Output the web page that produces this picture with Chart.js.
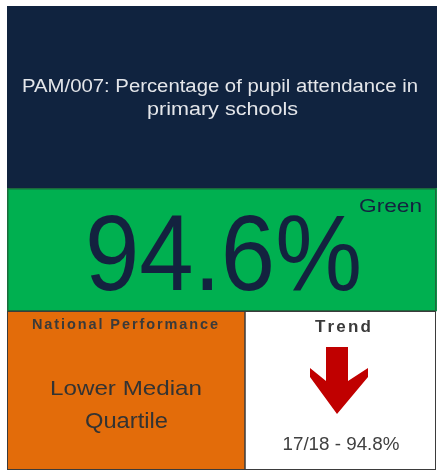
<!DOCTYPE html>
<html>
<head>
<meta charset="utf-8">
<script src="https://cdn.jsdelivr.net/npm/chart.js@4.4.0/dist/chart.umd.min.js"></script>
<style>
  html, body { margin: 0; padding: 0; background: #fff; }
  #wrap { width: 437px; height: 472px; }
</style>
</head>
<body>
<div id="wrap"><canvas id="kpiTile"></canvas></div>
<script>
// indicator data
const titleLines = ['PAM/007: Percentage of pupil attendance in', 'primary schools'];
const years = ['17/18', '18/19'];
const attendance = [94.8, 94.6];
const ragStatus = ['Green'];
const nationalLabel = ['National Performance'];
const nationalQuartile = ['Lower Median', 'Quartile'];
const trendLabel = ['Trend'];

const FONT = '"Liberation Sans", Arial, Helvetica, sans-serif';

// draw text centred on cx and stretched/squeezed to the width seen in the tile
function fitText(ctx, text, cx, baseline, width, font, color) {
    ctx.font = font;
    let w = ctx.measureText(text).width;
    ctx.save();
    ctx.translate(cx, baseline);
    ctx.scale(width / w, 1);
    ctx.textAlign = 'center';
    ctx.textBaseline = 'alphabetic';
    ctx.fillStyle = color;
    ctx.fillText(text, 0, 0);
    ctx.restore();
}

// same idea but widened with letter spacing instead of stretching glyphs
function spacedText(ctx, text, cx, baseline, width, font, color) {
    ctx.save();
    ctx.font = font;
    let w = ctx.measureText(text).width;
    let gap = (width - w) / (text.length - 1);
    ctx.fillStyle = color;
    ctx.textAlign = 'left';
    ctx.textBaseline = 'alphabetic';
    let x = cx - width / 2;
    for (let ch of text) {
        ctx.fillText(ch, x, baseline);
        x += ctx.measureText(ch).width + gap;
    }
    ctx.restore();
}

// chevron style arrow, pointing down when the value fell
function drawArrow(ctx, cx, top, down) {
    let pts = [[-11, 0], [11, 0], [11, 34], [31, 21], [31, 30], [0, 67], [-27, 30], [-27, 21], [-11, 34]];
    ctx.save();
    ctx.translate(cx, down ? top : top + 67);
    if (!down) ctx.scale(1, -1);
    ctx.beginPath();
    pts.forEach((p, i) => i ? ctx.lineTo(p[0], p[1]) : ctx.moveTo(p[0], p[1]));
    ctx.closePath();
    ctx.fillStyle = down ? '#c00000' : '#00a040';
    ctx.fill();
    ctx.restore();
}

const tilePlugin = {
    id: 'kpiTile',
    afterDraw(chart) {
        let ctx = chart.ctx;
        ctx.save();
        // header
        ctx.fillStyle = '#10233f';
        ctx.fillRect(7, 6, 430, 182);
        fitText(ctx, titleLines[0], 220, 92, 396, '18px ' + FONT, '#e4e6ea');
        fitText(ctx, titleLines[1], 222.5, 115, 151, '18px ' + FONT, '#e4e6ea');

        // RAG status band
        ctx.fillStyle = '#00b050';
        ctx.fillRect(7, 188, 430, 123);
        ctx.strokeStyle = '#1b6b3c';
        ctx.lineWidth = 1.5;
        ctx.strokeRect(7.75, 188.75, 428, 122);
        let current = attendance[attendance.length - 1];
        fitText(ctx, current.toFixed(1) + '%', 223.5, 290, 277, '107px ' + FONT, '#13223f');
        fitText(ctx, ragStatus[0], 390.5, 212, 63, '19px ' + FONT, '#13223f');

        // national performance cell
        ctx.fillStyle = '#e36c0a';
        ctx.fillRect(7, 311, 238, 159);
        spacedText(ctx, nationalLabel[0], 125, 329, 186, 'bold 14.5px ' + FONT, '#3a3a3a');
        fitText(ctx, nationalQuartile[0], 126, 395, 152, '21px ' + FONT, '#333');
        fitText(ctx, nationalQuartile[1], 126.5, 428, 83, '22px ' + FONT, '#333');

        // trend cell
        ctx.fillStyle = '#ffffff';
        ctx.fillRect(245, 311, 191, 159);
        spacedText(ctx, trendLabel[0], 342.5, 332, 55, 'bold 17px ' + FONT, '#3a3a3a');
        let prev = attendance[attendance.length - 2];
        drawArrow(ctx, 337, 347, current < prev);
        fitText(ctx, years[0] + ' - ' + prev.toFixed(1) + '%', 341, 450, 117, '18px ' + FONT, '#404040');

        // cell borders
        ctx.strokeStyle = '#3b3b3b';
        ctx.lineWidth = 1;
        ctx.strokeRect(7.5, 311.5, 237.5, 158);
        ctx.strokeRect(245, 311.5, 190.5, 158);
        ctx.restore();
    }
};

new Chart(document.getElementById('kpiTile'), {
    type: 'bar',
    data: {
        labels: years,
        datasets: [{ label: 'Attendance %', data: [], backgroundColor: 'rgba(0,0,0,0)' }]
    },
    options: {
        responsive: true,
        maintainAspectRatio: false,
        devicePixelRatio: 1,
        animation: false,
        layout: { padding: 0 },
        scales: { x: { display: false }, y: { display: false } },
        plugins: { legend: { display: false }, tooltip: { enabled: false } }
    },
    plugins: [tilePlugin]
});
</script>
</body>
</html>
